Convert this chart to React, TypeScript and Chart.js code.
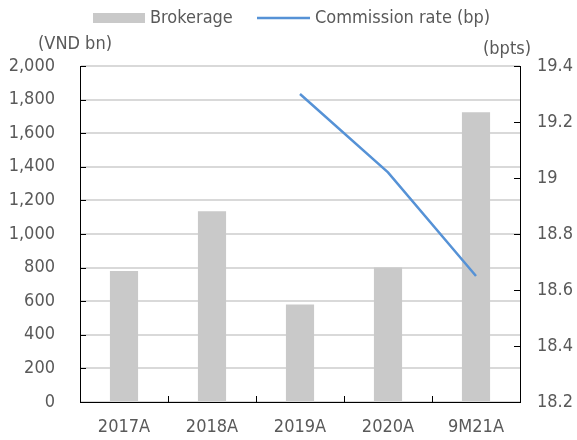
import React, { useEffect, useRef } from "react";
import { Chart, registerables } from "chart.js";

Chart.register(...registerables);

const categories = ["2017A", "2018A", "2019A", "2020A", "9M21A"];
const brokerage = [780, 1135, 580, 800, 1725];
const commissionRate = [null, null, 19.3, 19.02, 18.65];
const leftTitle = "(VND bn)";
const rightTitle = "(bpts)";

const FONT = "'DejaVu Sans Condensed', 'DejaVu Sans', sans-serif";
const FS = 18;
const TEXT = "#595959";
const BAR = "#c9c9c9";
const LINE = "#5692d6";

const decorPlugin = {
  id: "decor",
  afterDraw(chart: any) {
    const ctx = chart.ctx;
    const a = chart.chartArea;
    const y = chart.scales.y;
    const y1 = chart.scales.y1;
    ctx.save();
    ctx.strokeStyle = "#000";
    ctx.lineWidth = 1;
    ctx.beginPath();
    y.ticks.forEach((_t: any, i: number) => {
      const py = Math.round(y.getPixelForTick(i)) + 0.5;
      ctx.moveTo(a.left, py);
      ctx.lineTo(a.left + 6, py);
    });
    y1.ticks.forEach((_t: any, i: number) => {
      const py = Math.round(y1.getPixelForTick(i)) + 0.5;
      ctx.moveTo(a.right, py);
      ctx.lineTo(a.right - 6, py);
    });
    const n = categories.length;
    for (let i = 0; i <= n; i++) {
      const px = Math.round(a.left + ((a.right - a.left) * i) / n) + 0.5;
      ctx.moveTo(px, a.bottom);
      ctx.lineTo(px, a.bottom - 6);
    }
    ctx.stroke();

    ctx.font = `${FS}px ${FONT}`;
    ctx.fillStyle = TEXT;
    ctx.textBaseline = "middle";
    ctx.textAlign = "left";
    ctx.fillText(leftTitle, 38, 44);
    ctx.textAlign = "right";
    ctx.fillText(rightTitle, 531, 49);

    const ly = 18;
    ctx.textAlign = "left";
    ctx.fillStyle = BAR;
    ctx.fillRect(93, ly - 5, 52, 10);
    ctx.fillStyle = TEXT;
    ctx.fillText(chart.data.datasets[0].label, 150, ly);
    ctx.strokeStyle = LINE;
    ctx.lineWidth = 2.5;
    ctx.beginPath();
    ctx.moveTo(257, ly);
    ctx.lineTo(310, ly);
    ctx.stroke();
    ctx.fillStyle = TEXT;
    ctx.fillText(chart.data.datasets[1].label, 315, ly);
    ctx.restore();
  },
};

export default function App() {
  const ref = useRef<HTMLCanvasElement>(null);
  useEffect(() => {
    if (!ref.current) return;
    const chart = new Chart(ref.current, {
      type: "bar",
      data: {
        labels: categories,
        datasets: [
          {
            type: "bar",
            label: "Brokerage",
            data: brokerage,
            backgroundColor: BAR,
            yAxisID: "y",
            categoryPercentage: 1,
            barPercentage: 0.32,
            order: 2,
          },
          {
            type: "line",
            label: "Commission rate (bp)",
            data: commissionRate as any,
            borderColor: LINE,
            backgroundColor: LINE,
            borderWidth: 2.5,
            pointRadius: 0,
            yAxisID: "y1",
            order: 1,
          },
        ],
      },
      options: {
        animation: false,
        responsive: false,
        layout: { padding: { top: 66, left: 0, right: 0, bottom: 0 } },
        plugins: { legend: { display: false }, tooltip: { enabled: false } },
        scales: {
          x: {
            offset: true,
            grid: { display: false, drawTicks: false },
            border: { display: true, color: "#000", width: 1 },
            ticks: { color: TEXT, font: { family: FONT, size: FS }, padding: 15 },
            afterFit: (s: any) => {
              s.height = 38;
            },
          },
          y: {
            position: "left",
            min: 0,
            max: 2000,
            ticks: {
              stepSize: 200,
              color: TEXT,
              font: { family: FONT, size: FS },
              padding: 25,
              callback: (v: any) => Number(v).toLocaleString("en-US"),
            },
            grid: { color: "#d9d9d9", lineWidth: 2, drawTicks: false },
            border: { display: true, color: "#000", width: 1 },
            afterFit: (s: any) => {
              s.width = 80;
            },
          },
          y1: {
            position: "right",
            min: 18.2,
            max: 19.4,
            ticks: {
              stepSize: 0.2,
              color: TEXT,
              font: { family: FONT, size: FS },
              padding: 17,
              callback: (v: any) => String(Number(Number(v).toFixed(1))),
            },
            grid: { drawOnChartArea: false, drawTicks: false },
            border: { display: true, color: "#000", width: 1 },
            afterFit: (s: any) => {
              s.width = 57;
            },
          },
        },
      },
      plugins: [decorPlugin],
    });
    return () => chart.destroy();
  }, []);
  return (
    <div style={{ position: "absolute", left: 0, top: 0, width: 577, height: 440, background: "#fff" }}>
      <canvas ref={ref} width={577} height={440} style={{ width: 577, height: 440 }} />
    </div>
  );
}
